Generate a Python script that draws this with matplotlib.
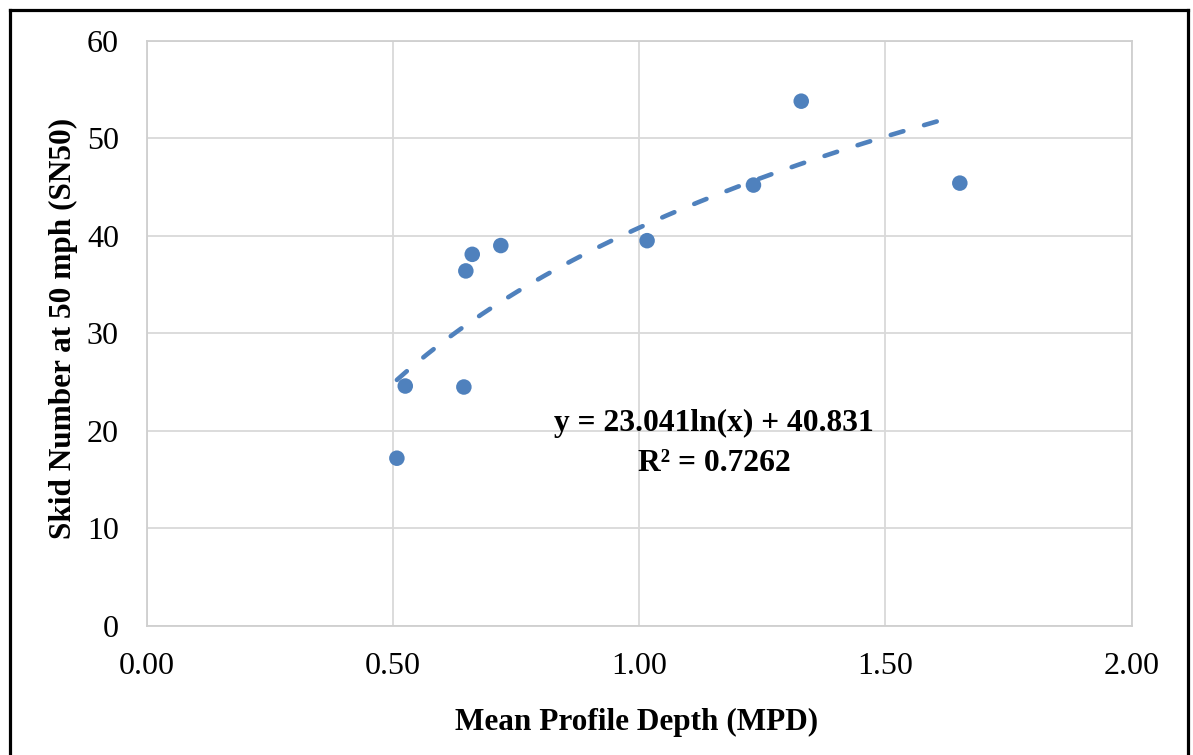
import numpy as np
import matplotlib
matplotlib.use("Agg")
import matplotlib.pyplot as plt
from matplotlib.lines import Line2D

# Mean profile depth (MPD) vs. skid number at 50 mph (SN50)
mpd = [0.508, 0.525, 0.644, 0.648, 0.661, 0.719, 1.016, 1.232, 1.329, 1.651]
sn50 = [17.2, 24.6, 24.5, 36.4, 38.1, 39.0, 39.5, 45.2, 53.8, 45.4]

# Logarithmic trendline y = a*ln(x) + b
trend_a = 23.041
trend_b = 40.831
trend_r2 = 0.7262
trend_x_end = 1.617

x_ticks = [0.0, 0.5, 1.0, 1.5, 2.0]
y_ticks = [0, 10, 20, 30, 40, 50, 60]

plt.rcParams["font.family"] = ["Liberation Serif", "DejaVu Serif"]
plt.rcParams["lines.scale_dashes"] = False

blue = "#4F81BD"
grid_c = "#D9D9D9"

fig = plt.figure(figsize=(11.93, 7.55), dpi=100)
ax = fig.add_axes([146.7 / 1193, 1 - 626 / 755, (1131.7 - 146.7) / 1193, (626 - 40.7) / 755])

ax.set_xlim(0, 2)
ax.set_ylim(0, 60)
ax.set_xticks(x_ticks)
ax.set_yticks(y_ticks)
ax.set_xticklabels([f"{v:.2f}" for v in x_ticks])
ax.set_yticklabels([f"{v}" for v in y_ticks])
ax.tick_params(length=0, labelsize=23, colors="black")
ax.tick_params(axis="x", pad=18.5)
ax.tick_params(axis="y", pad=20)
ax.grid(True, color=grid_c, linewidth=1.3)
ax.set_axisbelow(True)
for s in ax.spines.values():
    s.set_color("#CFCFCF")
    s.set_linewidth(1.3)

ax.scatter(mpd, sn50, s=125, color=blue, edgecolors="none", zorder=3)

xt = np.linspace(min(mpd), trend_x_end, 200)
ax.plot(xt, trend_a * np.log(xt) + trend_b, color=blue, linewidth=3.3,
        dashes=[9.5, 15.5], dash_capstyle="round", zorder=2)

ax.text(1.152, 18.7, f"y = {trend_a:.3f}ln(x) + {trend_b:.3f}\nR² = {trend_r2:.4f}",
        ha="center", va="center", fontsize=22.7, fontweight="bold",
        linespacing=1.5, zorder=4)

fig.text(637 / 1193, 1 - 722 / 755, "Mean Profile Depth (MPD)", ha="center", va="center",
         fontsize=22.5, fontweight="bold")
fig.text(63.5 / 1193, 1 - 328.5 / 755, "Skid Number at 50 mph (SN50)", ha="center", va="center",
         rotation=90, fontsize=22.5, fontweight="bold")

# Outer frame around the chart
for xs, ys in [((9.5, 9.5), (-5, 9.5)), ((9.5, 1187.5), (9.5, 9.5)), ((1187.5, 1187.5), (9.5, -5))]:
    fig.add_artist(Line2D([x / 1193 for x in xs], [1 - y / 755 if y >= 0 else -0.01 for y in ys],
                          color="black", linewidth=2.3, transform=fig.transFigure))

fig.savefig("out.png", dpi=100)
